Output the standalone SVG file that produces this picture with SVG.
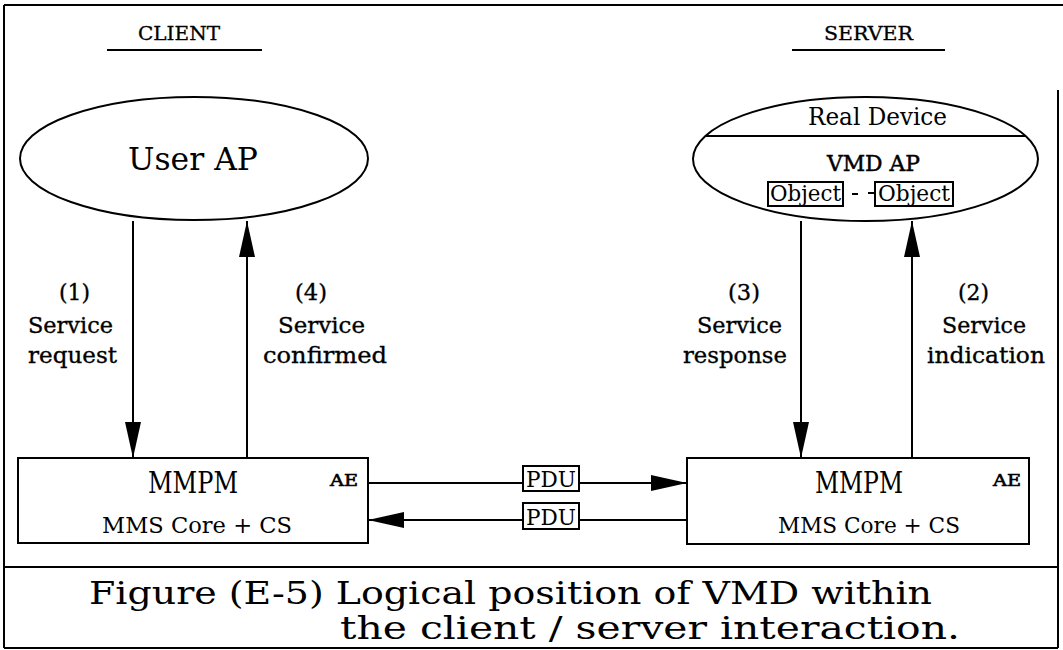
<svg xmlns="http://www.w3.org/2000/svg" width="1063" height="650" viewBox="0 0 1063 650">
  <style>
    .ln { stroke: #000; stroke-width: 2; fill: none; }
    .box { stroke: #000; stroke-width: 2; fill: #fff; }
    .mono { font-family: "DejaVu Serif", "Liberation Serif", serif; fill: #000; }
    .ser { font-family: "DejaVu Serif", "Liberation Serif", serif; fill: #000; stroke: #000; stroke-width: 0.35; }
    .tt { font-family: "DejaVu Serif", "Liberation Serif", serif; fill: #000; stroke: #000; stroke-width: 0.3; }
  </style>
  <defs>
    <marker id="ah" viewBox="0 0 36 16" refX="36" refY="8" markerWidth="36" markerHeight="16" markerUnits="userSpaceOnUse" orient="auto">
      <path d="M0,0 L36,8 L0,16 z" fill="#000"/>
    </marker>
  </defs>
  <rect width="1063" height="650" fill="#fff"/>

  <g id="frame">
    <line class="ln" x1="4" y1="5" x2="1063" y2="5"/>
    <line class="ln" x1="4" y1="5" x2="4" y2="648"/>
    <line class="ln" x1="4" y1="648" x2="1058" y2="648"/>
    <line class="ln" x1="1058" y1="90" x2="1058" y2="648"/>
    <line class="ln" x1="4" y1="567" x2="1058" y2="567"/>
  </g>

  <g id="client-title">
    <text class="tt" x="138" y="40" font-size="19" textLength="82" lengthAdjust="spacingAndGlyphs">CLIENT</text>
    <line class="ln" x1="107" y1="50" x2="262" y2="50"/>
  </g>
  <g id="server-title">
    <text class="tt" x="824" y="40" font-size="19" textLength="89" lengthAdjust="spacingAndGlyphs">SERVER</text>
    <line class="ln" x1="792" y1="50" x2="945" y2="50"/>
  </g>

  <g id="user-ap">
    <ellipse class="box" cx="194" cy="158.5" rx="174" ry="61.5"/>
    <text class="mono" x="128" y="170" font-size="31" textLength="130" lengthAdjust="spacingAndGlyphs">User AP</text>
  </g>

  <g id="vmd-ap">
    <ellipse class="box" cx="865.5" cy="159" rx="172.5" ry="62"/>
    <line class="ln" x1="706" y1="136" x2="1025" y2="136"/>
    <text class="mono" x="808" y="125" font-size="24" textLength="139" lengthAdjust="spacingAndGlyphs">Real Device</text>
    <text class="mono" x="827" y="171" font-size="23" stroke="#000" stroke-width="0.5" textLength="93" lengthAdjust="spacingAndGlyphs">VMD AP</text>
    <rect class="box" x="768" y="182" width="75" height="24" stroke-width="1.8"/>
    <text class="mono" x="770" y="201" font-size="22" textLength="71" lengthAdjust="spacingAndGlyphs">Object</text>
    <line class="ln" x1="852" y1="194" x2="858" y2="194"/>
    <line class="ln" x1="868" y1="193" x2="876" y2="193"/>
    <rect class="box" x="875" y="182" width="78" height="24" stroke-width="1.8"/>
    <text class="mono" x="878" y="201" font-size="22" textLength="72" lengthAdjust="spacingAndGlyphs">Object</text>
  </g>

  <g id="mmpm-client">
    <rect class="box" x="18" y="458" width="350" height="85"/>
    <text class="mono" x="148" y="493" font-size="29" textLength="90" lengthAdjust="spacingAndGlyphs">MMPM</text>
    <text class="mono" x="102" y="533" font-size="22" textLength="190" lengthAdjust="spacingAndGlyphs">MMS Core + CS</text>
    <text class="mono" x="330" y="486" font-size="16" stroke="#000" stroke-width="0.6" textLength="28" lengthAdjust="spacingAndGlyphs">AE</text>
  </g>

  <g id="mmpm-server">
    <rect class="box" x="687" y="458" width="342" height="86"/>
    <text class="mono" x="815" y="493" font-size="29" textLength="88" lengthAdjust="spacingAndGlyphs">MMPM</text>
    <text class="mono" x="778" y="533" font-size="22" textLength="182" lengthAdjust="spacingAndGlyphs">MMS Core + CS</text>
    <text class="mono" x="993" y="486" font-size="16" stroke="#000" stroke-width="0.6" textLength="28" lengthAdjust="spacingAndGlyphs">AE</text>
  </g>

  <g id="connectors">
    <line class="ln" x1="133" y1="221" x2="133" y2="458" marker-end="url(#ah)"/>
    <line class="ln" x1="247" y1="458" x2="247" y2="221" marker-end="url(#ah)"/>
    <line class="ln" x1="801" y1="221" x2="801" y2="458" marker-end="url(#ah)"/>
    <line class="ln" x1="912" y1="458" x2="912" y2="221" marker-end="url(#ah)"/>
    <line class="ln" x1="368" y1="483" x2="687" y2="483" marker-end="url(#ah)"/>
    <line class="ln" x1="687" y1="520" x2="368" y2="520" marker-end="url(#ah)"/>
  </g>

  <g id="pdu-top">
    <rect class="box" x="523" y="466" width="56" height="25"/>
    <text class="mono" x="526" y="487" font-size="22" textLength="50" lengthAdjust="spacingAndGlyphs">PDU</text>
  </g>
  <g id="pdu-bottom">
    <rect class="box" x="523" y="503" width="56" height="26"/>
    <text class="mono" x="526" y="525" font-size="22" textLength="50" lengthAdjust="spacingAndGlyphs">PDU</text>
  </g>

  <g id="label-1">
    <text class="ser" x="59" y="300" font-size="23" textLength="31" lengthAdjust="spacingAndGlyphs">(1)</text>
    <text class="ser" x="28" y="333" font-size="23" textLength="85" lengthAdjust="spacingAndGlyphs">Service</text>
    <text class="ser" x="28" y="363" font-size="23" textLength="89" lengthAdjust="spacingAndGlyphs">request</text>
  </g>
  <g id="label-4">
    <text class="ser" x="295" y="300" font-size="23" textLength="32" lengthAdjust="spacingAndGlyphs">(4)</text>
    <text class="ser" x="278" y="333" font-size="23" textLength="87" lengthAdjust="spacingAndGlyphs">Service</text>
    <text class="ser" x="263" y="363" font-size="23" textLength="124" lengthAdjust="spacingAndGlyphs">confirmed</text>
  </g>
  <g id="label-3">
    <text class="ser" x="728" y="300" font-size="23" textLength="32" lengthAdjust="spacingAndGlyphs">(3)</text>
    <text class="ser" x="697" y="333" font-size="23" textLength="85" lengthAdjust="spacingAndGlyphs">Service</text>
    <text class="ser" x="683" y="363" font-size="23" textLength="104" lengthAdjust="spacingAndGlyphs">response</text>
  </g>
  <g id="label-2">
    <text class="ser" x="958" y="300" font-size="23" textLength="31" lengthAdjust="spacingAndGlyphs">(2)</text>
    <text class="ser" x="942" y="333" font-size="23" textLength="84" lengthAdjust="spacingAndGlyphs">Service</text>
    <text class="ser" x="927" y="363" font-size="23" textLength="118" lengthAdjust="spacingAndGlyphs">indication</text>
  </g>

  <g id="caption">
    <text class="mono" x="89" y="604" font-size="32" textLength="843" lengthAdjust="spacingAndGlyphs">Figure (E-5) Logical position of VMD within</text>
    <text class="mono" x="340" y="639" font-size="32" textLength="620" lengthAdjust="spacingAndGlyphs">the client / server interaction.</text>
  </g>
</svg>
